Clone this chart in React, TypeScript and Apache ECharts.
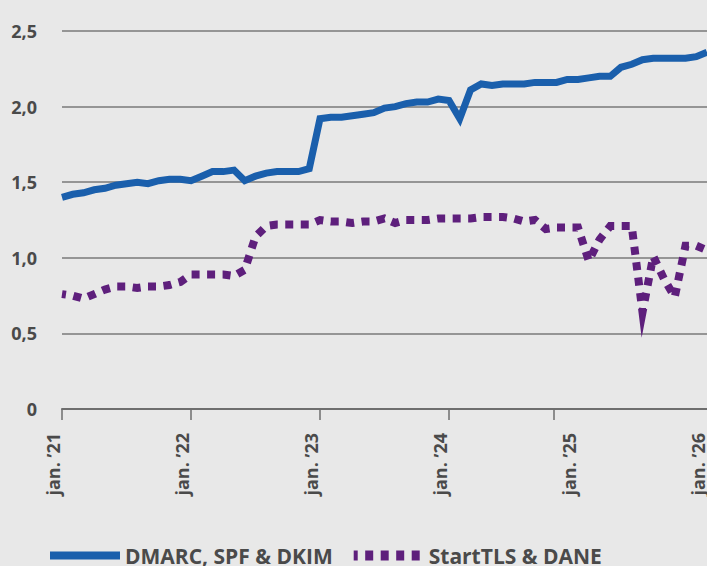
import React, { useEffect, useRef } from "react";
import * as echarts from "echarts";

// monthly points, jan '21 (0) .. jan '26 (60)
const months: number[] = Array.from({ length: 61 }, (_, i) => i);

const dmarcValues: number[] = [
  1.40, 1.42, 1.43, 1.45, 1.46, 1.48, 1.49, 1.50, 1.49, 1.51, 1.52, 1.52,
  1.51, 1.54, 1.57, 1.57, 1.58, 1.51, 1.54, 1.56, 1.57, 1.57, 1.57, 1.59,
  1.92, 1.93, 1.93, 1.94, 1.95, 1.96, 1.99, 2.00, 2.02, 2.03, 2.03, 2.05,
  2.04, 1.92, 2.11, 2.15, 2.14, 2.15, 2.15, 2.15, 2.16, 2.16, 2.16, 2.18,
  2.18, 2.19, 2.20, 2.20, 2.26, 2.28, 2.31, 2.32, 2.32, 2.32, 2.32, 2.33,
  2.36,
];

const starttlsValues: number[] = [
  0.76, 0.75, 0.73, 0.76, 0.79, 0.81, 0.81, 0.80, 0.81, 0.81, 0.82, 0.84,
  0.89, 0.89, 0.89, 0.89, 0.88, 0.92, 1.14, 1.21, 1.22, 1.22, 1.22, 1.22,
  1.25, 1.24, 1.24, 1.23, 1.24, 1.24, 1.26, 1.23, 1.25, 1.25, 1.25, 1.26,
  1.26, 1.26, 1.26, 1.27, 1.27, 1.27, 1.26, 1.24, 1.25, 1.19, 1.20, 1.20,
  1.20, 0.98, 1.12, 1.21, 1.21, 1.21, 0.64, 1.01, 0.86, 0.74, 1.08, 1.08,
  1.05,
];

const seriesNames: string[] = ["DMARC, SPF & DKIM", "StartTLS & DANE"];
const yearLabels: string[] = ["jan. ’21", "jan. ’22", "jan. ’23", "jan. ’24", "jan. ’25", "jan. ’26"];
const labelPositions: number[] = [0, 12, 24, 36, 48, 60];
const tickPositions: number[] = [0, 12, 24, 36, 45.7];

const FONT = "Open Sans";
const TEXT = "#4a4a4a";
const BLUE = "#1a5fac";
const PURPLE = "#5e1f7c";
const DASH = [8, 7.5];

export default function App() {
  const ref = useRef<HTMLDivElement>(null);
  useEffect(() => {
    if (!ref.current) return;
    const chart = echarts.init(ref.current, undefined, { renderer: "svg" });
    const purpleData = months.map((m, i) => [m, starttlsValues[i]]);
    chart.setOption({
      animation: false,
      backgroundColor: "#e8e8e8",
      grid: { left: 62, right: -2, top: 31, bottom: 157, containLabel: false },
      legend: {
        left: 46,
        top: 545,
        padding: 0,
        itemWidth: 70,
        itemHeight: 10,
        itemGap: 16,
        itemStyle: { opacity: 0 },
        textStyle: { fontFamily: FONT, fontWeight: "bold", fontSize: 21, color: TEXT },
        data: [
          { name: seriesNames[0], lineStyle: { width: 8, color: BLUE, type: "solid" } },
          { name: seriesNames[1], lineStyle: { width: 10, color: PURPLE, type: DASH } },
        ],
      },
      xAxis: {
        type: "value",
        min: 0,
        max: 60,
        splitLine: { show: false },
        axisLine: { show: true, lineStyle: { color: "#6e6e6e", width: 2 } },
        axisTick: {
          show: true,
          length: 11,
          customValues: tickPositions,
          lineStyle: { color: "#6e6e6e", width: 1.5 },
        },
        axisLabel: {
          customValues: labelPositions,
          rotate: 90,
          margin: 24,
          verticalAlign: "bottom",
          fontFamily: FONT,
          fontWeight: "bold",
          fontSize: 18,
          color: TEXT,
          formatter: (v: number) => {
            const idx = labelPositions.indexOf(Math.round(v));
            return idx >= 0 ? yearLabels[idx] : "";
          },
        },
      },
      yAxis: {
        type: "value",
        min: 0,
        max: 2.5,
        interval: 0.5,
        axisLine: { show: false },
        axisTick: { show: false },
        splitLine: { show: true, lineStyle: { color: "#7a7a7a", width: 1.5 } },
        axisLabel: {
          margin: 25,
          padding: [0, 0, 13, 0],
          fontFamily: FONT,
          fontWeight: "bold",
          fontSize: 18,
          color: TEXT,
          formatter: (v: number) => (v === 0 ? "0" : v.toFixed(1).replace(".", ",")),
        },
      },
      series: [
        {
          name: seriesNames[0],
          type: "line",
          symbol: "none",
          data: months.map((m, i) => [m, dmarcValues[i]]),
          lineStyle: { color: BLUE, width: 7, join: "miter", cap: "butt" },
          itemStyle: { color: BLUE },
          z: 3,
        },
        {
          name: seriesNames[1],
          type: "line",
          symbol: "none",
          data: purpleData,
          lineStyle: { color: PURPLE, width: 8, type: DASH, join: "miter", cap: "butt", miterLimit: 20 },
          itemStyle: { color: PURPLE },
          z: 2,
        },
      ],
    });

    // align the dash pattern so that the deepest dip sits inside a dash (sharp spike)
    let minIdx = 0;
    starttlsValues.forEach((v, i) => {
      if (v < starttlsValues[minIdx]) minIdx = i;
    });
    let len = 0;
    for (let i = 1; i <= minIdx; i++) {
      const a = chart.convertToPixel({ gridIndex: 0 }, purpleData[i - 1]) as number[];
      const b = chart.convertToPixel({ gridIndex: 0 }, purpleData[i]) as number[];
      len += Math.hypot(b[0] - a[0], b[1] - a[1]);
    }
    const period = DASH[0] + DASH[1];
    const offset = (((DASH[0] / 2 - len) % period) + period) % period;
    chart.setOption({
      series: [{}, { lineStyle: { dashOffset: offset } }],
    });

    return () => chart.dispose();
  }, []);
  return (
    <div
      ref={ref}
      style={{ position: "fixed", left: 0, top: 0, width: 707, height: 566, background: "#e8e8e8" }}
    />
  );
}
